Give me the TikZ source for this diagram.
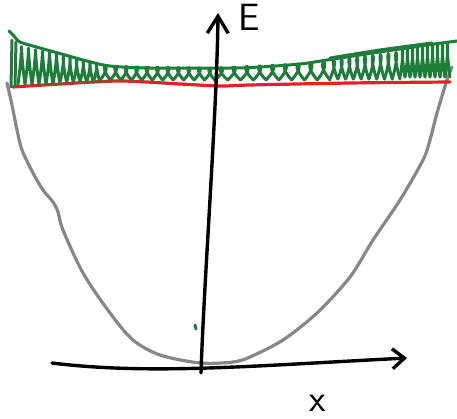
\documentclass[tikz,border=0pt]{standalone}
\usepackage{tikz}
\usepackage{xcolor}
\usetikzlibrary{arrows.meta}
\definecolor{wellgray}{RGB}{135,135,135}
\definecolor{levelred}{RGB}{232,32,38}
\definecolor{inkgreen}{RGB}{30,125,58}
\begin{document}
\begin{tikzpicture}[x=1pt,y=-1pt,
  axis/.style={line width=3.4pt,line cap=round,black},
  well/.style={line width=3.2pt,wellgray,line cap=round},
  level/.style={line width=3.2pt,levelred,line cap=round},
  scribble/.style={line width=3pt,inkgreen,line cap=round,line join=round},
  hand/.style={font=\sffamily\fontsize{38}{38}\selectfont,inner sep=0pt}]
\useasboundingbox (0,0) rectangle (457,418);
\coordinate (xstart) at (52,363);
\coordinate (xend) at (407,358);
\coordinate (ystart) at (201,373);
\coordinate (yend) at (218,13);
\draw[well] plot[smooth] coordinates {(7,83) (12,105) (17,130) (22,150) (33,173) (43,190) (53,202) (58,212) (63,230) (83,273) (110,313) (133,340) (160,355) (200,363) (233,362) (250,357) (283,340) (317,313) (350,277) (373,240) (400,200) (423,160) (430,140) (437,113) (447,80) (452,67)};
\draw[level] plot[smooth] coordinates {(13,87) (60,84) (120,81) (180,84) (220,86) (250,85) (350,83) (450,82)};
\draw[scribble] plot[smooth] coordinates {(9,31) (14,36) (20,42) (40,48) (58,53) (87,61) (110,66) (150,68) (230,68) (260,67) (300,64) (327,60) (360,55) (393,50) (427,45) (457,41)};
\draw[scribble] plot[smooth] coordinates {(330,58) (380,50) (432,43)};
\draw[scribble] (12,40) -- (11,87);
\draw[scribble] (16,42) -- (15,86);
\foreach \xa/\xb/\ta/\tb/\bt/\n/\k in {18/60/46/55/84/6/0, 60/100/56/64/82/6/0.2, 100/215/66/68/80/11/0.5, 215/330/68/62/80/9/0.5, 330/400/61/52/79/9/0.4, 400/450/50/43/77/10/0.3}{
  \foreach \i in {1,...,\n}{
    \pgfmathsetmacro\w{(\xb-\xa)/\n}
    \pgfmathsetmacro\xl{\xa+(\i-1)*\w}
    \pgfmathsetmacro\tp{\ta+(\tb-\ta)*(\i-0.5)/\n}
    \pgfmathsetmacro\cy{\bt-(\bt-\tp)/0.75}
    \draw[scribble] (\xl,\bt) .. controls ({\xl+(1+\k)*\w},\cy) and ({\xl-\k*\w},\cy) .. ({\xl+\w},\bt);
  }
}
\draw[scribble] (195,325) -- (196,329);
\draw[axis,-{Straight Barb[length=12pt,width=20pt,line width=3.4pt]}] (xstart) .. controls (150,375) and (250,366) .. (xend);
\draw[axis,-{Straight Barb[length=17pt,width=21pt,line width=3.4pt]}] (ystart) .. controls (204,280) and (217,110) .. (yend);
\node[hand] (elabel) at (249,17) {E};
\node[hand] (xlabel) at (318,403) {x};
\end{tikzpicture}
\end{document}
